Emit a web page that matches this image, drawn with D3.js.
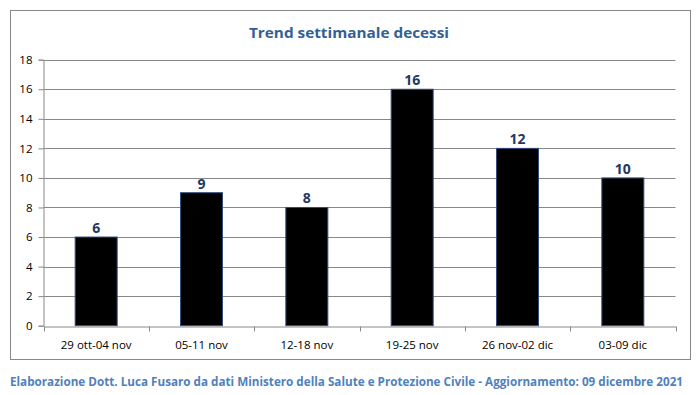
<!DOCTYPE html>
<html><head><meta charset="utf-8">
<script src="https://cdn.jsdelivr.net/npm/d3@7"></script>
<style>body{margin:0;background:#fff}svg{display:block}</style>
</head><body>
<script>
const categories = ["29 ott-04 nov","05-11 nov","12-18 nov","19-25 nov","26 nov-02 dic","03-09 dic"];
const deaths = [6, 9, 8, 16, 12, 10];
const yTicks = [0,2,4,6,8,10,12,14,16,18];
const titleText = "Trend settimanale decessi";
const footerText = "Elaborazione Dott. Luca Fusaro da dati Ministero della Salute e Protezione Civile - Aggiornamento: 09 dicembre 2021";

const W = 698, H = 395;
const m = {left: 43.5, right: 675.5, top: 59.7, bottom: 325.7};
const font = "'Open Sans', 'Noto Sans', sans-serif";

const svg = d3.select("body").append("svg").attr("width", W).attr("height", H);

svg.append("rect").attr("x", 10.5).attr("y", 10.5).attr("width", 680).attr("height", 349)
  .attr("fill", "#fff").attr("stroke", "#888").attr("stroke-width", 1);

const x = d3.scaleBand().domain(categories).range([m.left, m.right]).paddingInner(0).paddingOuter(0);
const y = d3.scaleLinear().domain([0, 18]).range([m.bottom, m.top]);

// gridlines
svg.append("g").selectAll("line").data(yTicks.filter(d => d > 0)).join("line")
  .attr("x1", m.left).attr("x2", m.right)
  .attr("y1", d => Math.round(y(d)) + 0.5).attr("y2", d => Math.round(y(d)) + 0.5)
  .attr("stroke", "#888").attr("stroke-width", 1);

// y axis
const yAxis = d3.axisLeft(y).tickValues(yTicks).tickSize(5).tickPadding(6);
const gy = svg.append("g").attr("transform", `translate(${m.left},0)`).call(yAxis);
gy.select(".domain").attr("stroke", "#888");
gy.selectAll(".tick line").attr("stroke", "#888");
gy.selectAll(".tick text").attr("font-family", font).attr("font-size", 11.5).attr("fill", "#000");

// bars
const bw = 42;
svg.append("g").selectAll("rect").data(deaths).join("rect")
  .attr("x", (d, i) => x(categories[i]) + x.bandwidth() / 2 - bw / 2)
  .attr("y", d => y(d))
  .attr("width", bw)
  .attr("height", d => y(0) - y(d))
  .attr("fill", "#000").attr("stroke", "#2f4f7f").attr("stroke-width", 1);

// x axis
const gx = svg.append("g").attr("transform", `translate(0,${Math.round(m.bottom) + 0.5})`)
  .call(d3.axisBottom(x).tickSize(0).tickPadding(14));
gx.select(".domain").attr("stroke", "#888");
gx.selectAll(".tick text").attr("font-family", font).attr("font-size", 11.5).attr("fill", "#000");
const bounds = categories.map(c => x(c)).concat([m.right]);
gx.append("g").selectAll("line").data(bounds).join("line")
  .attr("x1", d => Math.round(d) + 0.5).attr("x2", d => Math.round(d) + 0.5)
  .attr("y1", 0).attr("y2", 5).attr("stroke", "#888");

// value labels
svg.append("g").selectAll("text").data(deaths).join("text")
  .attr("x", (d, i) => x(categories[i]) + x.bandwidth() / 2)
  .attr("y", d => y(d) - 4)
  .attr("text-anchor", "middle")
  .attr("font-family", font).attr("font-weight", "bold").attr("font-size", 14)
  .attr("fill", "#1f3864").text(d => d);

// title
svg.append("text").attr("x", 349).attr("y", 37.5).attr("text-anchor", "middle")
  .attr("font-family", font).attr("font-weight", "bold").attr("font-size", 15)
  .attr("fill", "#335f94").attr("textLength", 200).attr("lengthAdjust", "spacingAndGlyphs")
  .text(titleText);

// footer
svg.append("text").attr("x", 10).attr("y", 386)
  .attr("font-family", font).attr("font-weight", "bold").attr("font-size", 11.5)
  .attr("fill", "#4f81bd").attr("textLength", 673).attr("lengthAdjust", "spacingAndGlyphs")
  .text(footerText);
</script>
</body></html>
